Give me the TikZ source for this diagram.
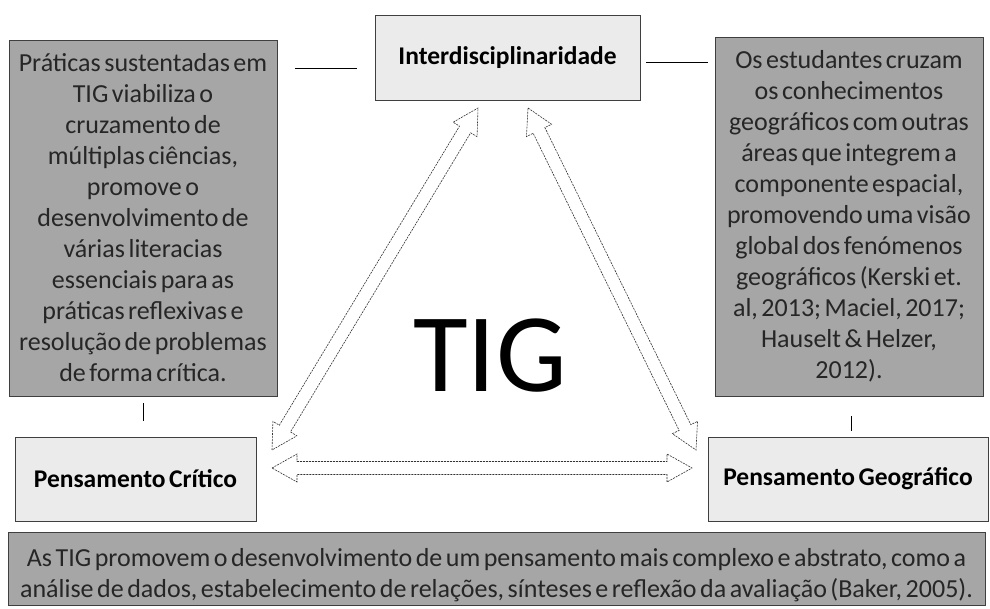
\documentclass[tikz,border=0pt]{standalone}
\usepackage{fontspec}
\setmainfont{Carlito}[WordSpace=0.6]
\usetikzlibrary{calc}
\definecolor{boxgray}{HTML}{A6A6A6}
\definecolor{lightbox}{HTML}{EBEBEB}
\definecolor{edgegray}{HTML}{3F3F3F}
\definecolor{txt}{HTML}{262626}
\tikzset{
  darkbox/.style={draw=edgegray, line width=0.9pt, fill=boxgray, anchor=center, inner sep=0pt, align=center, text=txt, font=\fontsize{26}{31}\selectfont},
  lightnode/.style={draw=edgegray, line width=0.9pt, fill=lightbox, anchor=center, inner sep=0pt, align=center, text=black, font=\fontsize{25.5}{28}\selectfont\bfseries},
  plaintext/.style={anchor=center, inner sep=0pt, align=center, text=txt, font=\fontsize{26}{31}\selectfont},
  linkline/.style={draw=black, line width=0.8pt},
  arrowsty/.style={draw=black!80, line width=0.6pt, dash pattern=on 2pt off 1pt, fill=white}
}
\newcommand\hollowarrow[2]{%
  \path[arrowsty] let \p1=(#1), \p2=(#2),
    \n1={atan2(\y2-\y1,\x2-\x1)}, \n2={veclen(\x2-\x1,\y2-\y1)}, \n3={\n2-25pt} in
    (\p1)
    -- ($(\p1)+(\n1:25pt)+(\n1+90:14pt)$)
    -- ($(\p1)+(\n1:25pt)+(\n1+90:6.5pt)$)
    -- ($(\p1)+(\n1:\n3)+(\n1+90:6.5pt)$)
    -- ($(\p1)+(\n1:\n3)+(\n1+90:14pt)$)
    -- (\p2)
    -- ($(\p1)+(\n1:\n3)+(\n1-90:14pt)$)
    -- ($(\p1)+(\n1:\n3)+(\n1-90:6.5pt)$)
    -- ($(\p1)+(\n1:25pt)+(\n1-90:6.5pt)$)
    -- ($(\p1)+(\n1:25pt)+(\n1-90:14pt)$)
    -- cycle;}
\begin{document}
\begin{tikzpicture}[x=1pt,y=-1pt]
\useasboundingbox (0,0) rectangle (990,609);
\fill[white] (0,0) rectangle (990,609);

% boxes
\node[darkbox, minimum width=268pt, minimum height=356pt] (left) at (143,218)
 {Práticas sustentadas em\\TIG viabiliza o\\cruzamento de\\múltiplas ciências,\\promove o\\desenvolvimento de\\várias literacias\\essenciais para as\\práticas reflexivas e\\resolução de problemas\\de forma crítica.};
\node[darkbox, minimum width=268pt, minimum height=359pt] (right) at (849,216.5)
 {Os estudantes cruzam\\os conhecimentos\\geográficos com outras\\áreas que integrem a\\componente espacial,\\promovendo uma visão\\global dos fenómenos\\geográficos (Kerski et.\\al, 2013; Maciel, 2017;\\Hauselt \& Helzer,\\2012).};
\node[lightnode, minimum width=265pt, minimum height=85pt] (inter) at (507.5,57.5) {Interdisciplinaridade};
\node[lightnode, minimum width=241pt, minimum height=84pt] (pc) at (135.5,479) {Pensamento Crítico};
\node[lightnode, minimum width=280pt, minimum height=84pt] (pg) at (848,479) {Pensamento Geográfico};
\node[darkbox, minimum width=977pt, minimum height=73pt] (bottom) at (496.5,569) {};
\node[plaintext] (bottomtxt) at (496.5,575)
 {As TIG promovem o desenvolvimento de um pensamento mais complexo e abstrato, como a\\análise de dados, estabelecimento de relações, sínteses e reflexão da avaliação (Baker, 2005).};

% central label
\node[text=black, font=\fontsize{112}{112}\selectfont] (tig) at (490,356) {TIG};

% connector lines
\coordinate (l1) at (295,68);
\coordinate (l2) at (357,68);
\draw[linkline] (l1) -- (l2);
\coordinate (r1) at (646,62);
\coordinate (r2) at (708,62);
\draw[linkline] (r1) -- (r2);
\coordinate (t1) at (143,403);
\coordinate (t2) at (143,421);
\draw[linkline] (t1) -- (t2);
\coordinate (u1) at (851,416);
\coordinate (u2) at (851,431);
\draw[linkline] (u1) -- (u2);

% double arrows
\coordinate (a1) at (272,450);
\coordinate (a2) at (478,108);
\coordinate (b1) at (528,108);
\coordinate (b2) at (696,450);
\coordinate (c1) at (272,468);
\coordinate (c2) at (692,468);
\hollowarrow{a1}{a2}
\hollowarrow{b1}{b2}
\hollowarrow{c1}{c2}
\end{tikzpicture}
\end{document}
